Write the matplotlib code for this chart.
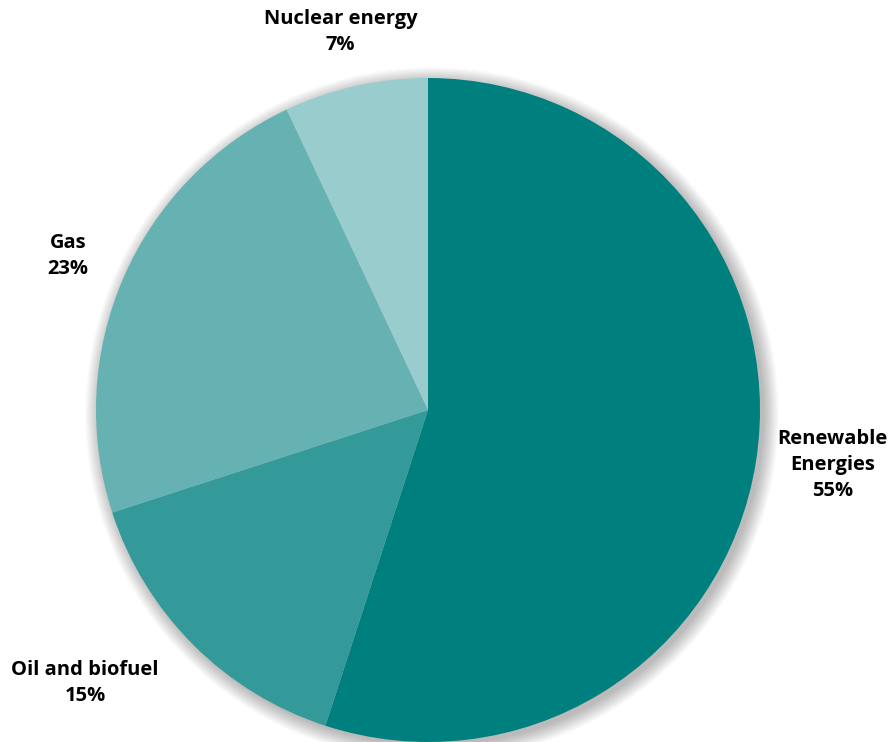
import numpy as np
import matplotlib.pyplot as plt
from matplotlib.patches import Circle

# Energy mix shares
labels = ['Renewable\nEnergies', 'Oil and biofuel', 'Gas', 'Nuclear energy']
shares = [55, 15, 23, 7]
colors = ['#007f7f', '#339999', '#66b2b2', '#99cccc']
label_dist = [1.23, 1.32, 1.18, 1.17]
label_shift = [1.25, -6.5, 0.2, 0.4]   # degrees off the wedge middle

plt.rcParams['font.family'] = ['Open Sans', 'DejaVu Sans']

fig = plt.figure(figsize=(8.93, 7.42), dpi=100)
ax = fig.add_axes([0, 0, 1, 1])

# soft shadow behind the pie
for i in range(12):
    ax.add_patch(Circle((0.012, -0.012), 1.0 + i * 0.004, color='black',
                        alpha=0.025, lw=0, zorder=0))

wedges, _ = ax.pie(shares, colors=colors, startangle=90, counterclock=False,
                   radius=1.0, center=(0, 0), wedgeprops=dict(linewidth=0))
for w in wedges:
    w.set_zorder(2)

for w, lab, s, d, sh in zip(wedges, labels, shares, label_dist, label_shift):
    ang = np.deg2rad((w.theta1 + w.theta2) / 2 + sh)
    ax.text(d * np.cos(ang), d * np.sin(ang), f'{lab}\n{s}%',
            ha='center', va='center', fontsize=14.5, fontweight='bold',
            linespacing=1.4, color='black')

ax.set_xlim(-428 / 332, (893 - 428) / 332)
ax.set_ylim(-(742 - 410) / 332, 410 / 332)
ax.set_aspect('equal')
ax.axis('off')

fig.savefig('out.png', dpi=100)
